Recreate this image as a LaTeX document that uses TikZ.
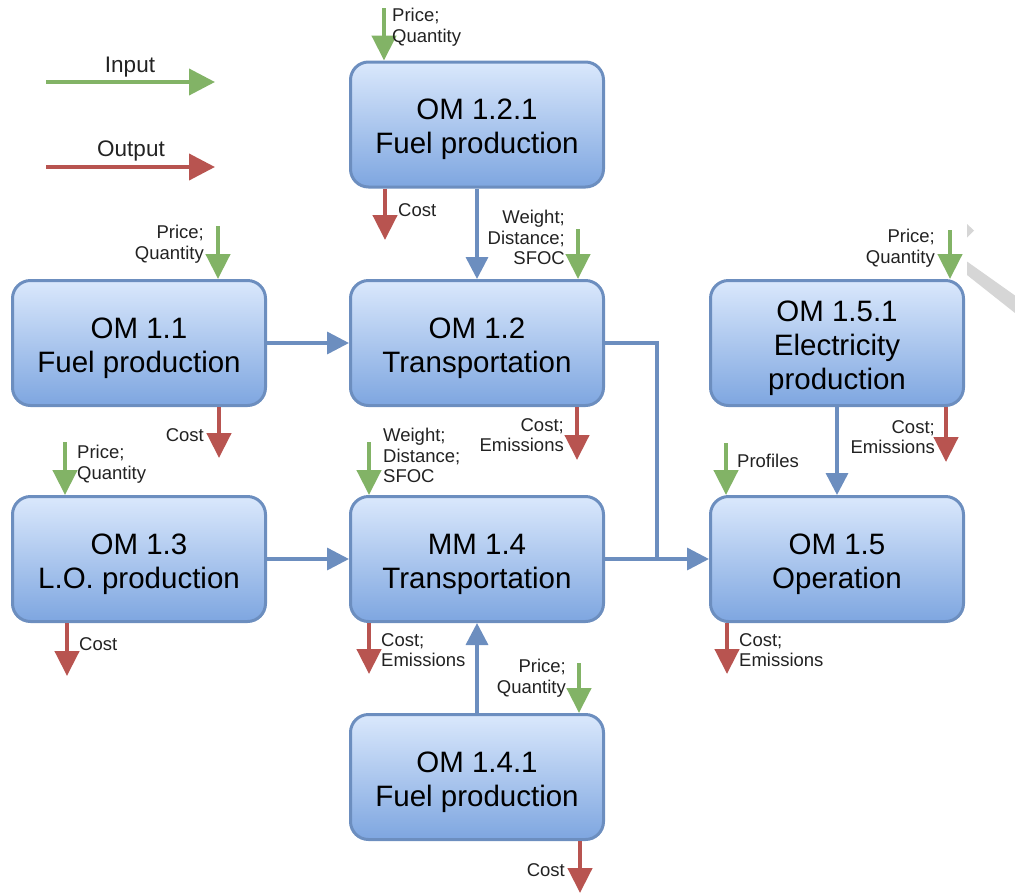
\documentclass[tikz,border=0pt]{standalone}
\usepackage{fontspec}
\setmainfont{Liberation Sans}
\usetikzlibrary{arrows.meta}
\definecolor{boxline}{HTML}{6C8EBF}
\definecolor{boxtop}{HTML}{DAE8FC}
\definecolor{boxbot}{HTML}{7EA6E0}
\definecolor{ingreen}{HTML}{82B366}
\definecolor{outred}{HTML}{B85450}
\definecolor{labtext}{HTML}{222222}
\definecolor{markgrey}{HTML}{D6D6D6}
\tikzset{
  module/.style={rectangle, rounded corners=18pt, draw=boxline, line width=3pt,
    top color=boxtop, bottom color=boxbot, minimum width=253pt, minimum height=125pt,
    inner sep=0pt},
  modtext/.style={align=center, inner sep=0pt, font=\fontsize{29.5}{34}\selectfont},
  conn/.style={draw=boxline, line width=3.5pt, -{Triangle[width=22pt,length=22pt]}},
  conn plain/.style={draw=boxline, line width=3.5pt},
  inarr/.style={draw=ingreen, line width=4.5pt, -{Triangle[width=24pt,length=25pt]}},
  outarr/.style={draw=outred, line width=4.5pt, -{Triangle[width=24pt,length=25pt]}},
  legin/.style={draw=ingreen, line width=4pt, -{Triangle[width=26pt,length=26pt]}},
  legout/.style={draw=outred, line width=4pt, -{Triangle[width=26pt,length=26pt]}},
  lbl/.style={inner sep=0pt, text=labtext, font=\fontsize{18.5}{20.5}\selectfont},
  lblL/.style={lbl, align=left, anchor=north west},
  lblR/.style={lbl, align=right, anchor=north east},
  legtext/.style={inner sep=0pt, text=labtext, font=\fontsize{22.5}{26}\selectfont}
}
\begin{document}
\begin{tikzpicture}[x=1pt, y=-1pt]
\useasboundingbox (0,0) rectangle (1015,895);

% corner mark at the right edge
\fill[markgrey] (967,224) -- (974,230.5) -- (967,237.5) -- cycle;
\fill[markgrey] (967,261.5) -- (1015,295.5) -- (1015,313) -- (967,275) -- cycle;

% legend
\coordinate (legInA) at (46,82);
\coordinate (legInB) at (215,82);
\coordinate (legOutA) at (46,167);
\coordinate (legOutB) at (215,167);
\draw[legin] (legInA) -- (legInB);
\draw[legout] (legOutA) -- (legOutB);
\node[legtext] (legInTxt) at (130,67) {Input};
\node[legtext] (legOutTxt) at (131,151) {Output};

% modules
\node[module] (b121) at (477,124.5) {};
\node[module] (b11)  at (139,343)   {};
\node[module] (b12)  at (477,343)   {};
\node[module] (b151) at (837,343)   {};
\node[module] (b13)  at (139,559)   {};
\node[module] (b14)  at (477,559)   {};
\node[module] (b15)  at (837,559)   {};
\node[module] (b141) at (477,777)   {};

% module titles
\node[modtext] (b121t) at ([yshift=-5pt]b121.center) {OM 1.2.1\\Fuel production};
\node[modtext] (b11t)  at ([yshift=-5pt]b11.center)  {OM 1.1\\Fuel production};
\node[modtext] (b12t)  at ([yshift=-5pt]b12.center)  {OM 1.2\\Transportation};
\node[modtext] (b151t) at ([yshift=-5pt]b151.center) {OM 1.5.1\\Electricity\\production};
\node[modtext] (b13t)  at ([yshift=-5pt]b13.center)  {OM 1.3\\L.O. production};
\node[modtext] (b14t)  at ([yshift=-5pt]b14.center)  {MM 1.4\\Transportation};
\node[modtext] (b15t)  at ([yshift=-5pt]b15.center)  {OM 1.5\\Operation};
\node[modtext] (b141t) at ([yshift=-5pt]b141.center) {OM 1.4.1\\Fuel production};

% links between modules
\draw[conn] (b121.south) -- (b12.north);
\draw[conn] (b11.east) -- (b12.west);
\draw[conn] (b13.east) -- (b14.west);
\draw[conn] (b141.north) -- (b14.south);
\draw[conn] (b151.south) -- (b15.north);
\draw[conn] (b14.east) -- (b15.west);
\coordinate (jn) at (657,559);
\draw[conn plain] (b12.east) -| (jn);

% inputs
\coordinate (i121) at (384,8);
\coordinate (i12)  at (578,229);
\coordinate (i11)  at (218,226);
\coordinate (i151) at (950,230);
\coordinate (i13)  at (65,442);
\coordinate (i14)  at (369,442);
\coordinate (i15)  at (726,443);
\coordinate (i141) at (579,663);
\draw[inarr] (i121) -- (i121 |- b121.north);
\draw[inarr] (i12)  -- (i12 |- b12.north);
\draw[inarr] (i11)  -- (i11 |- b11.north);
\draw[inarr] (i151) -- (i151 |- b151.north);
\draw[inarr] (i13)  -- (i13 |- b13.north);
\draw[inarr] (i14)  -- (i14 |- b14.north);
\draw[inarr] (i15)  -- (i15 |- b15.north);
\draw[inarr] (i141) -- (i141 |- b141.north);

% outputs
\coordinate (o121) at (385,240);
\coordinate (o11)  at (219,458);
\coordinate (o12)  at (577,460);
\coordinate (o151) at (946,462);
\coordinate (o13)  at (67,676);
\coordinate (o14)  at (369,674);
\coordinate (o15)  at (727,674);
\coordinate (o141) at (580,893);
\draw[outarr] (o121 |- b121.south) -- (o121);
\draw[outarr] (o11 |- b11.south) -- (o11);
\draw[outarr] (o12 |- b12.south) -- (o12);
\draw[outarr] (o151 |- b151.south) -- (o151);
\draw[outarr] (o13 |- b13.south) -- (o13);
\draw[outarr] (o14 |- b14.south) -- (o14);
\draw[outarr] (o15 |- b15.south) -- (o15);
\draw[outarr] (o141 |- b141.south) -- (o141);

% input and output labels
\node[lblL] (t121in)  at (392,8)   {Price;\\Quantity};
\node[lblL] (t121out) at (398,203) {Cost};
\node[lblR] (t12in)   at (565,210) {Weight;\\Distance;\\SFOC};
\node[lblR] (t11in)   at (204,225) {Price;\\Quantity};
\node[lblR] (t11out)  at (204,428) {Cost};
\node[lblR] (t12out)  at (564,418) {Cost;\\Emissions};
\node[lblR] (t151in)  at (935,229) {Price;\\Quantity};
\node[lblR] (t151out) at (935,420) {Cost;\\Emissions};
\node[lblL] (t13in)   at (77,445)  {Price;\\Quantity};
\node[lblL] (t14in)   at (383,428) {Weight;\\Distance;\\SFOC};
\node[lblL] (t15in)   at (737,454) {Profiles};
\node[lblL] (t13out)  at (79,637)  {Cost};
\node[lblL] (t14out)  at (381,633) {Cost;\\Emissions};
\node[lblL] (t15out)  at (739,633) {Cost;\\Emissions};
\node[lblR] (t141in)  at (566,659) {Price;\\Quantity};
\node[lblR] (t141out) at (565,863) {Cost};
\end{tikzpicture}
\end{document}
